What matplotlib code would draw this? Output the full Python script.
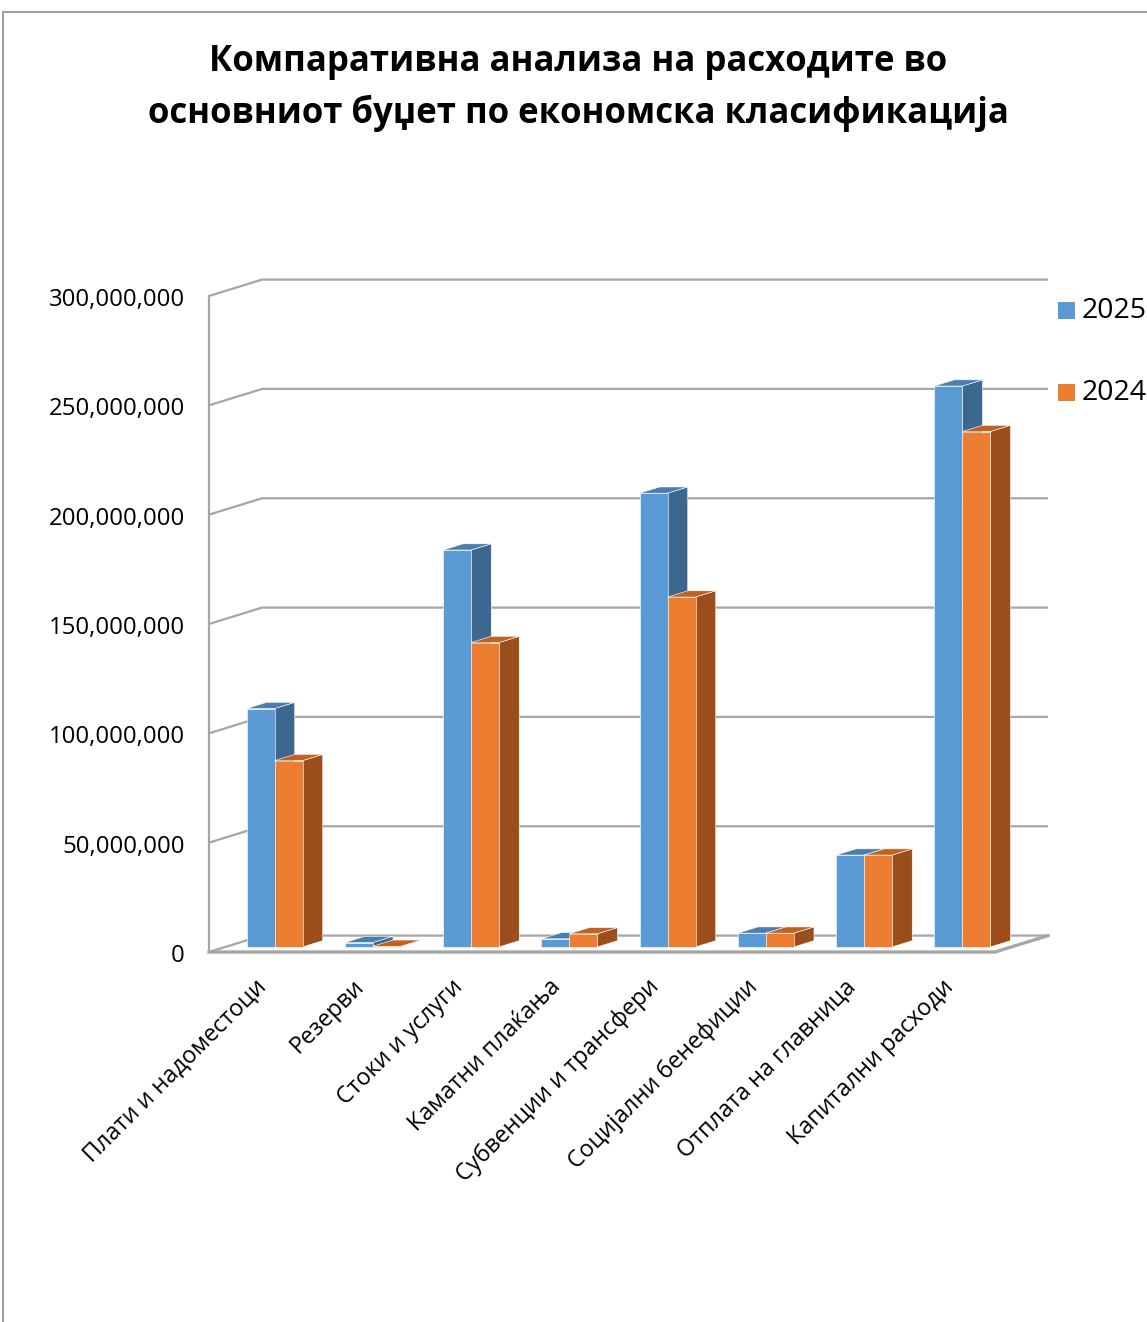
import matplotlib

matplotlib.use("Agg")
import matplotlib.pyplot as plt  # noqa: E402
from matplotlib.patches import Polygon, Rectangle  # noqa: E402
from matplotlib.lines import Line2D  # noqa: E402

plt.rcParams["font.family"] = ["Open Sans", "DejaVu Sans"]

# Податоци
categories = [
    "Плати и надоместоци",
    "Резерви",
    "Стоки и услуги",
    "Каматни плаќања",
    "Субвенции и трансфери",
    "Социјални бенефиции",
    "Отплата на главница",
    "Капитални расходи",
]
series_names = ["2025", "2024"]
values_2025 = [109.0e6, 2.0e6, 181.5e6, 3.7e6, 207.5e6, 6.3e6, 42.0e6, 256.5e6]
values_2024 = [85.2e6, 0.3e6, 139.2e6, 6.0e6, 160.0e6, 6.3e6, 42.0e6, 235.7e6]
y_ticks = [0, 50e6, 100e6, 150e6, 200e6, 250e6, 300e6]

front_colors = ["#5B9BD5", "#ED7D31"]
side_colors = ["#3C6890", "#9B4E1C"]
top_colors = ["#4A7DB2", "#C1621F"]
grid_color = "#a6a6a6"

W, H = 1147, 1322
PX_SLOT = 98.25            # pixels per category slot
PX_VAL = 656 / 300e6       # pixels per value unit
X0_PX, Y0_PX = 209, 952    # front-left origin of the floor

DX = 0.54                  # depth offset in slot units
DY = 7.5e6                 # depth offset in value units
F0, F1 = 0.31, 0.69        # bar depth (front, back)
BW = 0.285                 # bar width in slot units


def proj(x, v, d):
    return (x + d * DX, v + d * DY)


fig = plt.figure(figsize=(W / 100, H / 100), dpi=100)
ax = fig.add_axes([0, 0, 1, 1])
ax.set_xlim(-X0_PX / PX_SLOT, (W - X0_PX) / PX_SLOT)
ax.set_ylim((Y0_PX - H) / PX_VAL, Y0_PX / PX_VAL)
ax.axis("off")

n = len(categories)

# задна страна и мрежа
for v in y_ticks:
    ax.plot([0, DX, n + DX], [v, v + DY, v + DY], color=grid_color, lw=1.6,
            zorder=1, solid_capstyle="butt")
    ax.text(-0.245, v - 1.8e6, f"{v:,.0f}", ha="right", va="center", fontsize=17.3,
            color="#000000")
ax.plot([0, 0], [0, y_ticks[-1]], color=grid_color, lw=1.6, zorder=1)
ax.plot([0, n, n + DX], [0, 0, DY], color=grid_color, lw=2.4, zorder=1)

# столбови
for i in range(n):
    for s, vals in enumerate([values_2025, values_2024]):
        v = vals[i]
        x0 = i + 0.5 - BW + s * BW
        x1 = x0 + BW
        side = [proj(x1, 0, F0), proj(x1, 0, F1), proj(x1, v, F1), proj(x1, v, F0)]
        top = [proj(x0, v, F0), proj(x1, v, F0), proj(x1, v, F1), proj(x0, v, F1)]
        front = [proj(x0, 0, F0), proj(x1, 0, F0), proj(x1, v, F0), proj(x0, v, F0)]
        for pts, col in [(side, side_colors[s]), (top, top_colors[s]),
                         (front, front_colors[s])]:
            ax.add_patch(Polygon(pts, closed=True, facecolor=col,
                                 edgecolor="#ffffff", lw=0.4, zorder=3))
    ax.text(i + 0.46, -10.5e6, categories[i], rotation=45, ha="right", va="top",
            rotation_mode="anchor", fontsize=16.8, color="#000000")

# наслов
fig.text(0.504, 1 - 62 / H, "Компаративна анализа на расходите во",
         ha="center", va="center", fontsize=25, fontweight="bold")
fig.text(0.504, 1 - 113 / H, "основниот буџет по економска класификација",
         ha="center", va="center", fontsize=25, fontweight="bold")

# легенда
for s, name in enumerate(series_names):
    yc = 310 + s * 82
    fig.patches.append(Rectangle((1058 / W, 1 - (yc + 8.5) / H), 17 / W, 17 / H,
                                 transform=fig.transFigure,
                                 facecolor=front_colors[s], edgecolor="none"))
    fig.text(1082 / W, 1 - (yc + 1) / H, name, ha="left", va="center", fontsize=20.5)

# рамка
fig.add_artist(Line2D([3 / W, 3 / W], [0, 1 - 12 / H], color="#a0a0a0", lw=1.5,
                      transform=fig.transFigure))
fig.add_artist(Line2D([3 / W, 1], [1 - 12 / H, 1 - 12 / H], color="#a0a0a0", lw=1.5,
                      transform=fig.transFigure))

fig.savefig("out.png", dpi=100)
